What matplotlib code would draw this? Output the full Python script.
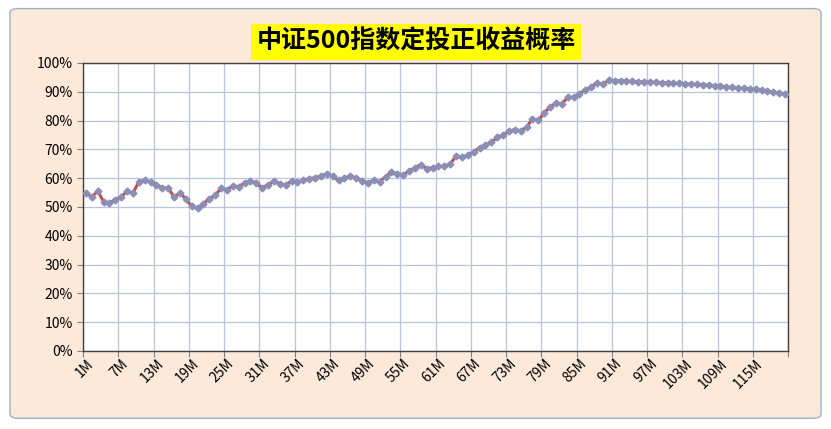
import matplotlib
matplotlib.use("Agg")
import matplotlib.pyplot as plt
import matplotlib.patches as mpatches
from matplotlib.ticker import PercentFormatter

plt.rcParams["font.family"] = ["Noto Sans CJK SC", "DejaVu Sans"]

months = list(range(1, 121))
win_rate = [
    54.9, 53.5, 55.5, 51.9, 51.4, 52.6, 53.5, 55.5, 54.9, 58.7,
    59.3, 58.8, 57.8, 56.6, 56.6, 53.5, 54.9, 52.8, 50.2, 49.5,
    51.2, 52.8, 54.0, 56.6, 56.0, 57.4, 57.0, 58.4, 59.0, 58.4,
    56.6, 57.8, 59.0, 58.1, 57.7, 59.0, 58.6, 59.3, 59.8, 60.2,
    60.7, 61.6, 60.7, 59.3, 60.1, 60.7, 60.1, 59.0, 58.4, 59.3,
    58.8, 60.5, 62.1, 61.6, 61.2, 62.4, 63.7, 64.7, 63.3, 63.7,
    64.1, 64.1, 64.9, 67.7, 67.2, 68.1, 69.2, 70.6, 71.5, 72.4,
    74.2, 75.1, 76.3, 76.9, 76.5, 77.7, 80.6, 80.1, 82.6, 84.8,
    86.0, 85.8, 88.1, 88.1, 89.4, 90.6, 91.7, 93.1, 92.6, 94.0,
    93.9, 93.8, 93.7, 93.6, 93.5, 93.4, 93.4, 93.3, 93.2, 93.1,
    93.0, 92.9, 92.8, 92.7, 92.6, 92.4, 92.3, 92.1, 91.9, 91.7,
    91.5, 91.3, 91.2, 91.0, 90.8, 90.5, 90.2, 89.9, 89.6, 89.3,
]
tick_months = list(range(1, 121, 6))
tick_labels = [f"{m}M" for m in tick_months]
title = "中证500指数定投正收益概率"

fig = plt.figure(figsize=(8.31, 4.29), dpi=100, facecolor="white")
fig.patches.append(mpatches.FancyBboxPatch(
    (0.012, 0.025), 0.976, 0.955, boxstyle="round,pad=0,rounding_size=0.01",
    transform=fig.transFigure, facecolor="#FDE9D9", edgecolor="#9DB3C8",
    linewidth=1, zorder=-10))

ax = fig.add_axes([83 / 831, 78 / 429, 705 / 831, 288 / 429])
ax.set_facecolor("white")
ax.plot(months, win_rate, color="#C0504D", linewidth=2.2, marker="D", markersize=3.5,
        markerfacecolor="#8B8FB5", markeredgecolor="#8B8FB5", zorder=3)
ax.set_xlim(0.5, 120.5)
ax.set_ylim(0, 100)
ax.set_yticks(range(0, 101, 10))
ax.yaxis.set_major_formatter(PercentFormatter(decimals=0))
ax.set_xticks([m - 0.5 for m in range(1, 122, 6)], minor=False)
ax.set_xticks(tick_months, minor=True)
ax.set_xticklabels([""] * 21)
ax.set_xticklabels(tick_labels, minor=True, rotation=45, ha="right", rotation_mode="anchor", fontsize=10)
ax.tick_params(axis="x", which="minor", length=0, pad=4)
ax.tick_params(axis="x", which="major", length=4, color="#808080")
ax.tick_params(axis="y", length=4, color="#808080", labelsize=10)
ax.grid(True, which="major", color="#B8C4DA", linewidth=0.9)
for s in ax.spines.values():
    s.set_color("#404040")
    s.set_linewidth(1)

fig.text(416 / 831, 1 - 42 / 429, title, ha="center", va="center", fontsize=18,
         fontweight="bold", color="black",
         bbox=dict(facecolor="#FFFF00", edgecolor="none", pad=4))

fig.savefig("out.png", dpi=100, facecolor=fig.get_facecolor())
